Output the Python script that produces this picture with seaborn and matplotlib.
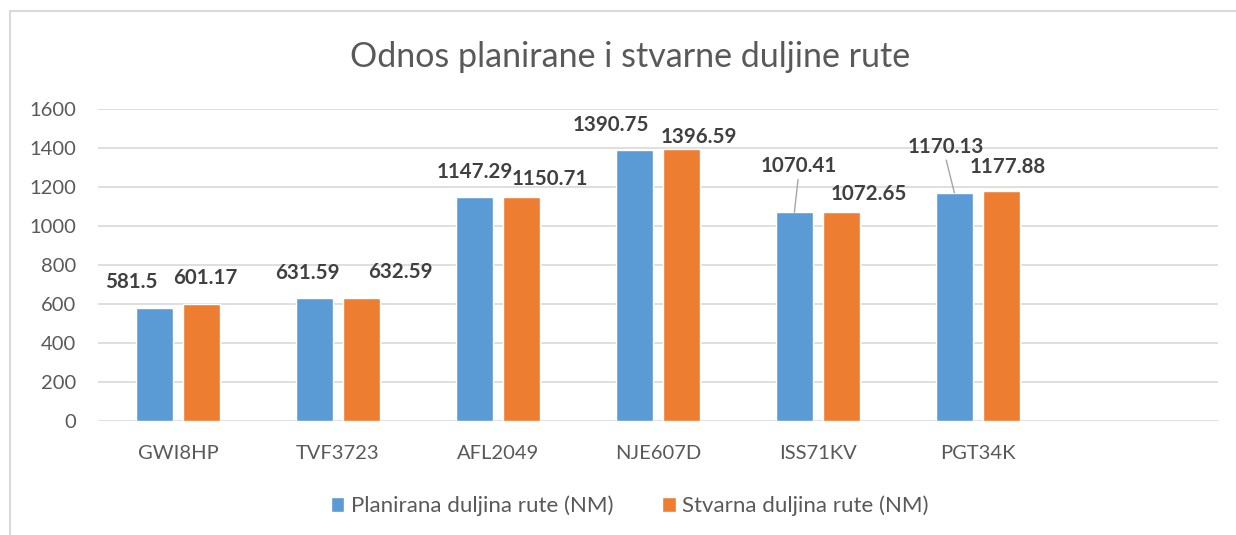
import matplotlib
matplotlib.use("Agg")
import matplotlib.pyplot as plt
from matplotlib.patches import Patch
import pandas as pd
import seaborn as sns

# chart data
flights = ["GWI8HP", "TVF3723", "AFL2049", "NJE607D", "ISS71KV", "PGT34K"]
planned = [581.5, 631.59, 1147.29, 1390.75, 1070.41, 1170.13]
actual = [601.17, 632.59, 1150.71, 1396.59, 1072.65, 1177.88]
series_names = ["Planirana duljina rute (NM)", "Stvarna duljina rute (NM)"]
title = "Odnos planirane i stvarne duljine rute"
y_ticks = [0, 200, 400, 600, 800, 1000, 1200, 1400, 1600]

# label offsets from bar top (pixels), as moved by hand in the original
planned_offsets = [(-23, 26), (-7, 25), (0, 25), (-23, 25), (4, 46), (-9, 46)]
actual_offsets = [(4, 26), (39, 26), (28, 18), (17, 12), (27, 18), (6, 24)]
leader_lines = {("p", 4), ("p", 5)}

blue = "#5B9BD5"
orange = "#ED7D31"
grey_text = "#595959"
label_text = "#404040"
grid = "#D9D9D9"

df = pd.DataFrame({
    "flight": flights * 2,
    "value": planned + actual,
    "series": [series_names[0]] * len(flights) + [series_names[1]] * len(flights),
})

sns.set_theme(style="white")
plt.rcParams["font.family"] = ["Lato", "DejaVu Sans"]

fig = plt.figure(figsize=(12.36, 5.35), dpi=100)
ax = fig.add_axes([98 / 1236, 1 - 421 / 535, 1120 / 1236, 312 / 535])

sns.barplot(data=df, x="flight", y="value", hue="series",
            palette=[blue, orange], width=0.59, gap=0.21,
            saturation=1, legend=False, ax=ax, errorbar=None)

ax.set_xlim(-0.5, len(flights) + 0.5)
ax.set_ylim(0, 1600)
ax.set_yticks(y_ticks)
ax.yaxis.grid(True, color=grid, linewidth=1.2)
ax.set_axisbelow(True)
for s in ax.spines.values():
    s.set_visible(False)
ax.tick_params(axis="both", length=0, labelsize=14.5, labelcolor=grey_text)
ax.tick_params(axis="x", pad=17)
ax.tick_params(axis="y", pad=16)
ax.set_xlabel("")
ax.set_ylabel("")

# data labels
for key, cont, offs in [("p", ax.containers[0], planned_offsets),
                        ("a", ax.containers[1], actual_offsets)]:
    for i, (bar, off) in enumerate(zip(cont, offs)):
        h = bar.get_height()
        xc = bar.get_x() + bar.get_width() / 2
        arrow = None
        if (key, i) in leader_lines:
            arrow = dict(arrowstyle="-", color="#A6A6A6", lw=1,
                         shrinkA=0, shrinkB=0, relpos=(0.5, 0.0))
        ax.annotate(f"{h:g}", xy=(xc, h), xytext=off,
                    textcoords="offset pixels", ha="center", va="center",
                    fontsize=14.8, fontweight="bold", color=label_text,
                    arrowprops=arrow, annotation_clip=False)

fig.text(630 / 1236, 1 - 57 / 535, title, ha="center", va="center",
         fontsize=24.5, color=grey_text)

handles = [Patch(facecolor=blue), Patch(facecolor=orange)]
fig.legend(handles, series_names, loc="center", ncol=2, frameon=False,
           bbox_to_anchor=(630 / 1236, 1 - 506 / 535),
           handlelength=0.6, handleheight=0.6, handletextpad=0.3,
           columnspacing=2.2, fontsize=16, labelcolor=grey_text)

# chart border
fig.add_artist(plt.Line2D([10 / 1236, 10 / 1236], [0, 1 - 11 / 535],
                          color=grid, lw=1.5, transform=fig.transFigure))
fig.add_artist(plt.Line2D([10 / 1236, 1], [1 - 11 / 535, 1 - 11 / 535],
                          color=grid, lw=1.5, transform=fig.transFigure))

fig.savefig("out.png", dpi=100)
